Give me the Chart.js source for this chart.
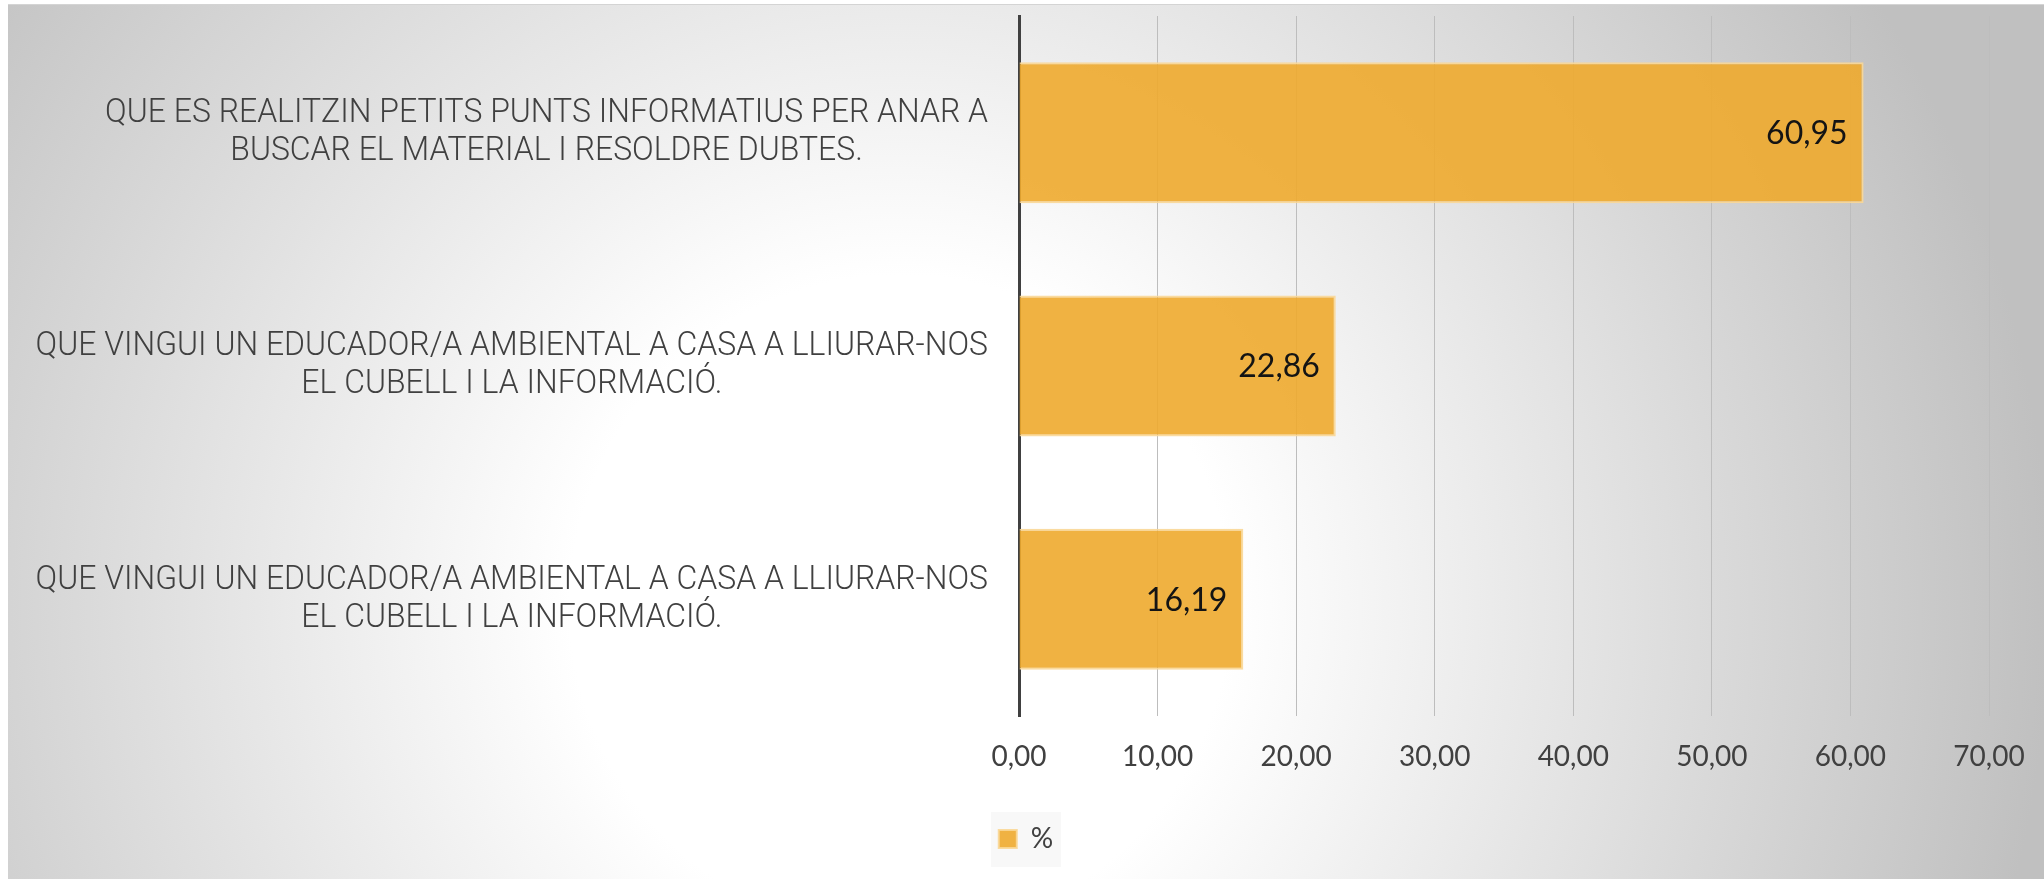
<!DOCTYPE html>
<html>
<head>
<meta charset="utf-8">
<script src="https://cdn.jsdelivr.net/npm/chart.js@4"></script>
<style>
    html, body { margin: 0; padding: 0; background: #fff; }
    #wrap {
        position: absolute;
        left: 8px;
        top: 4px;
        width: 2036px;
        height: 875px;
        border-top: 1px solid #d4d4d4;
        background: radial-gradient(circle at 892px 600px, #ffffff 330px, #c0c0c0 1150px);
    }
    canvas { display: block; }
</style>
</head>
<body>
<div id="wrap"><canvas id="chart" width="2036" height="874"></canvas></div>
<script>
const categories = [
    ['QUE ES REALITZIN PETITS PUNTS INFORMATIUS PER ANAR A', 'BUSCAR EL MATERIAL I RESOLDRE DUBTES.'],
    ['QUE VINGUI UN EDUCADOR/A AMBIENTAL A CASA A LLIURAR-NOS', 'EL CUBELL I LA INFORMACIÓ.'],
    ['QUE VINGUI UN EDUCADOR/A AMBIENTAL A CASA A LLIURAR-NOS', 'EL CUBELL I LA INFORMACIÓ.']
];
const percentValues = [60.95, 22.86, 16.19];
const seriesName = '%';
const axisMin = 0;
const axisMax = 70;
const axisStep = 10;

const barColor = 'rgba(238, 170, 46, 0.9)';
const barEdge = 'rgba(250, 215, 150, 0.9)';

function fmt(v) {
    return Number(v).toFixed(2).replace('.', ',');
}

// category labels: block right-aligned next to the axis, lines centred inside it
// (the original font is a narrow light face, so squeeze Roboto Light a little)
const categoryLabels = {
    id: 'categoryLabels',
    afterDraw(chart) {
        const ctx = chart.ctx;
        const yScale = chart.scales.y;
        const squeeze = 0.954;
        const right = (chart.chartArea.left - 31) / squeeze;
        ctx.save();
        ctx.scale(squeeze, 1);
        ctx.font = '300 33.5px Roboto';
        ctx.fillStyle = '#404040';
        ctx.textAlign = 'center';
        ctx.textBaseline = 'middle';
        chart.data.labels.forEach((lines, i) => {
            const widest = Math.max(...lines.map(l => ctx.measureText(l).width));
            const cx = right - widest / 2;
            const cy = yScale.getPixelForTick(i);
            const lh = 38;
            lines.forEach((l, j) => {
                ctx.fillText(l, cx, cy + (j - (lines.length - 1) / 2) * lh);
            });
        });
        ctx.restore();
    }
};

const valueLabels = {
    id: 'valueLabels',
    afterDatasetsDraw(chart) {
        const ctx = chart.ctx;
        const meta = chart.getDatasetMeta(0);
        ctx.save();
        ctx.font = '32px Lato';
        ctx.fillStyle = '#141414';
        ctx.textAlign = 'right';
        ctx.textBaseline = 'middle';
        meta.data.forEach((bar, i) => {
            ctx.fillText(fmt(chart.data.datasets[0].data[i]), bar.x - 16, bar.y + 1);
        });
        ctx.restore();
    }
};

// centre the legend on the whole canvas (not only the padded box) and give it a pale back
const legendBox = {
    id: 'legendBox',
    afterLayout(chart) {
        const lg = chart.legend;
        if (!lg) return;
        lg.left = 0;
        lg.right = chart.width;
        lg.width = chart.width;
    },
    beforeDraw(chart) {
        const hb = chart.legend && chart.legend.legendHitBoxes && chart.legend.legendHitBoxes[0];
        if (!hb) return;
        const ctx = chart.ctx;
        const cx = hb.left + hb.width / 2;
        const cy = hb.top + hb.height / 2;
        ctx.save();
        ctx.fillStyle = '#f8f8f8';
        ctx.fillRect(cx - 35, cy - 27, 70, 55);
        ctx.restore();
    }
};

new Chart(document.getElementById('chart').getContext('2d'), {
    type: 'bar',
    data: {
        labels: categories,
        datasets: [{
            label: seriesName,
            data: percentValues,
            backgroundColor: barColor,
            borderColor: barEdge,
            borderWidth: 2,
            barPercentage: 0.604,
            categoryPercentage: 1
        }]
    },
    options: {
        indexAxis: 'y',
        responsive: false,
        animation: false,
        layout: { padding: { top: 11, right: 55, bottom: 16, left: 0 } },
        plugins: {
            tooltip: { enabled: false },
            legend: {
                position: 'bottom',
                labels: {
                    boxWidth: 18,
                    boxHeight: 18,
                    padding: 10,
                    color: '#404040',
                    font: { family: 'Lato', size: 28 }
                }
            }
        },
        scales: {
            x: {
                min: axisMin,
                max: axisMax,
                ticks: {
                    stepSize: axisStep,
                    padding: 0,
                    color: '#404040',
                    font: { family: 'Lato', size: 28 },
                    callback: v => fmt(v)
                },
                grid: { color: '#bdbdbd', lineWidth: 1, drawTicks: true, tickLength: 24, tickColor: 'transparent' },
                border: { display: false },
                afterFit: s => { s.height = 99; }
            },
            y: {
                ticks: { display: false },
                grid: { color: 'transparent', drawTicks: false },
                border: { display: true, color: '#404040', width: 3 },
                afterFit: s => { s.width = 1011; }
            }
        }
    },
    plugins: [legendBox, categoryLabels, valueLabels]
});
</script>
</body>
</html>
